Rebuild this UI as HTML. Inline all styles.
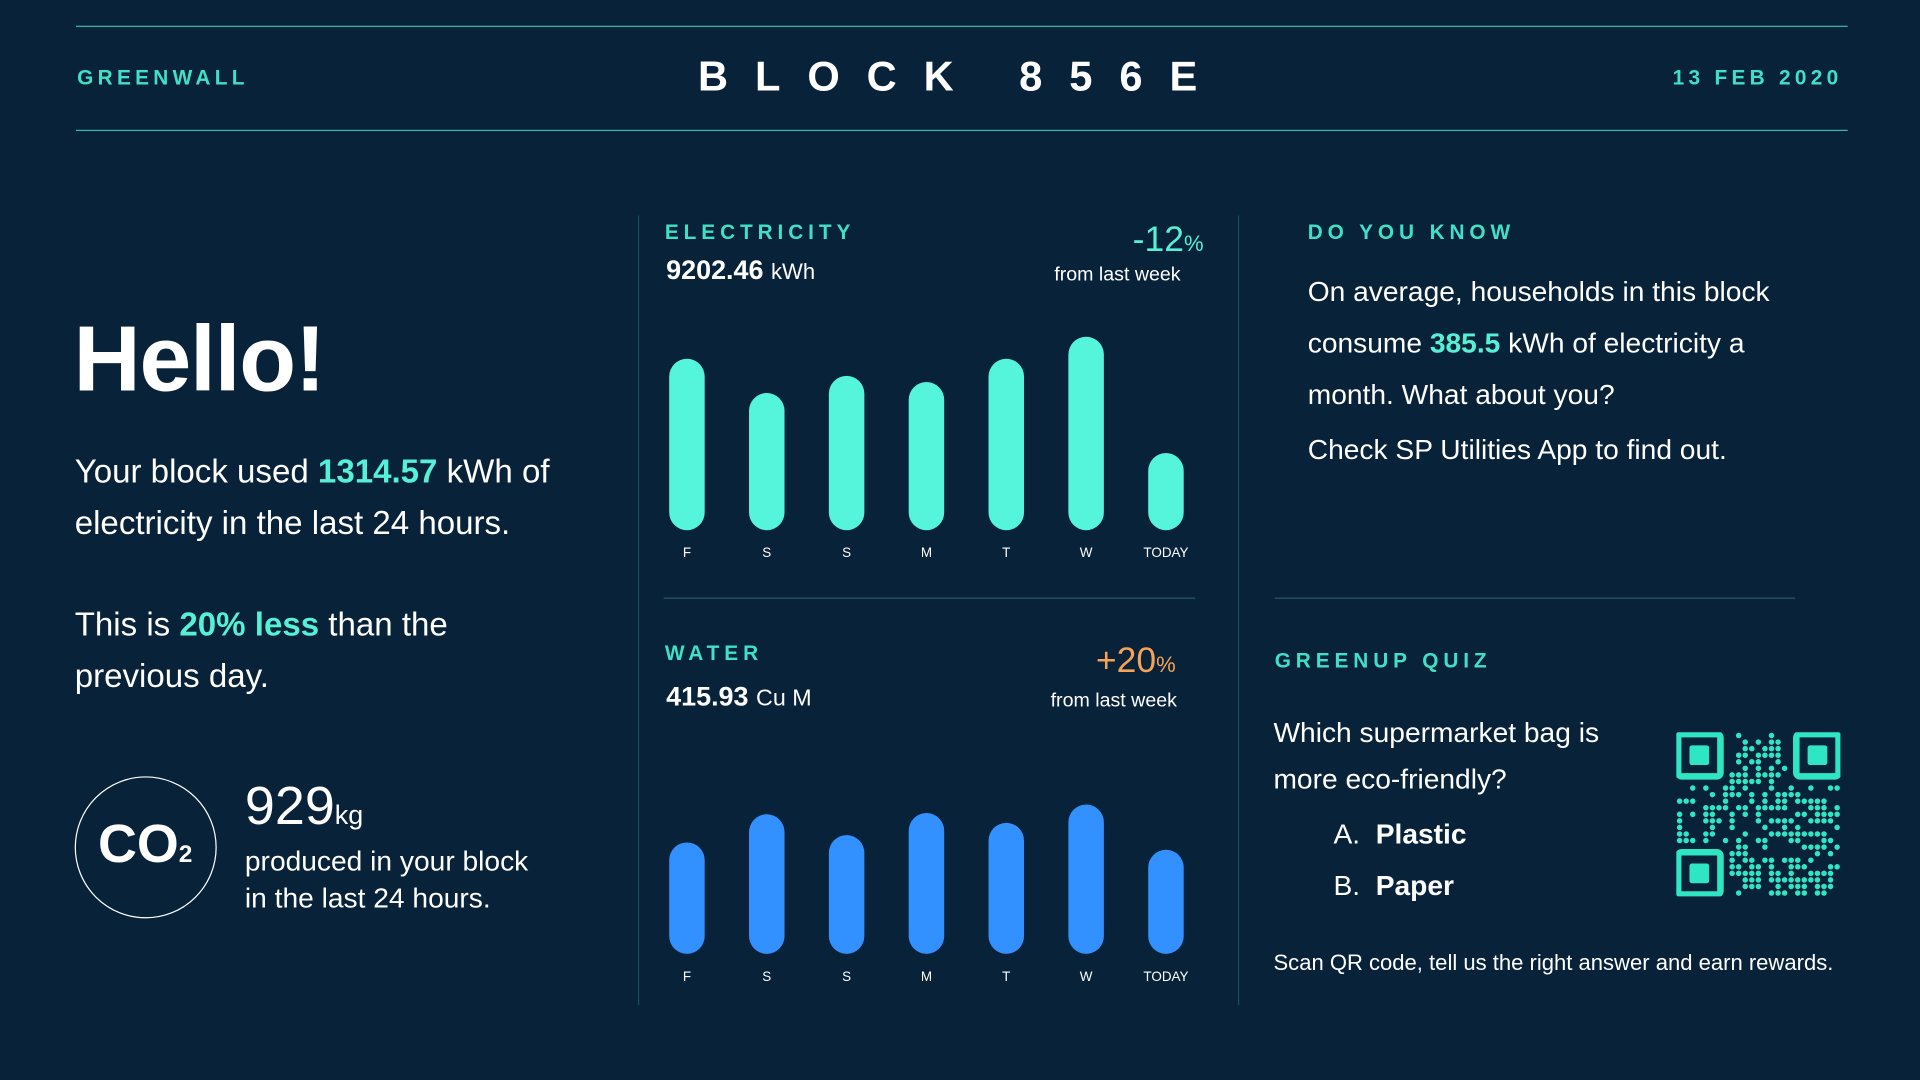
<!DOCTYPE html>
<html><head><meta charset="utf-8">
<style>
html,body{margin:0;padding:0;background:#072239;width:1920px;height:1080px;overflow:hidden}
#stage{position:absolute;left:0;top:0;width:1568px;height:882px;transform:scale(1.22449);transform-origin:0 0;font-family:"Liberation Sans",sans-serif;color:#fff}
.a{position:absolute;white-space:nowrap}
.teal{color:#55f0d6}
.lbl{font-weight:bold;letter-spacing:4px;font-size:17px;color:#3fe0c5}
.hl{position:absolute;height:1px;background:#2a6f78}
.vl{position:absolute;width:1px;background:#1f4a5c}
</style></head><body>
<div id="stage">
<div class="hl" style="left:62px;top:21px;width:1447px;background:#3bb5b0"></div>
<div class="hl" style="left:62px;top:106px;width:1447px;background:#3bb5b0"></div>
<div class="a lbl" style="left:63px;top:54px;font-size:17px;letter-spacing:3.5px">GREENWALL</div>
<div class="a" style="left:570px;top:44px;font-size:34px;font-weight:bold;letter-spacing:22px">BLOCK 856E</div>
<div class="a lbl" style="left:1366px;top:54px;letter-spacing:3.5px">13 FEB 2020</div>

<div class="a" style="left:60px;top:250px;font-size:76px;font-weight:bold;letter-spacing:-1px">Hello!</div>
<div class="a" style="left:61px;top:364px;font-size:27px;line-height:42px">Your block used <b class="teal">1314.57</b> kWh of<br>electricity in the last 24 hours.</div>
<div class="a" style="left:61px;top:489px;font-size:27px;line-height:42px">This is <b class="teal">20% less</b> than the<br>previous day.</div>
<div class="a" style="left:61px;top:634px;width:114px;height:114px;border:1.5px solid #fff;border-radius:50%"><div class="a" style="left:18px;top:30px;font-size:44px;font-weight:bold">CO<span style="font-size:20px">2</span></div></div>
<div class="a" style="left:200px;top:634px;font-size:44px">929<span style="font-size:22px">kg</span></div>
<div class="a" style="left:200px;top:688px;font-size:23px;line-height:30px">produced in your block<br>in the last 24 hours.</div>

<div class="vl" style="left:521px;top:176px;height:645px"></div>
<div class="vl" style="left:1011px;top:176px;height:645px"></div>
<div class="hl" style="left:542px;top:488px;width:434px;background:#2b5768"></div>
<div class="hl" style="left:1041px;top:488px;width:425px;background:#2b5768"></div>

<div class="a lbl" style="left:543px;top:180px">ELECTRICITY</div>
<div class="a" style="left:544px;top:208px;font-size:22px"><b>9202.46</b> <span style="font-size:18px">kWh</span></div>
<div class="a teal" style="left:925px;top:180px;font-size:29px">-12<span style="font-size:18px">%</span></div>
<div class="a" style="left:861px;top:216px;font-size:16px">from last week</div>

<div class="a lbl" style="left:543px;top:524px">WATER</div>
<div class="a" style="left:544px;top:556px;font-size:22px"><b>415.93</b> <span style="font-size:19px">Cu M</span></div>
<div class="a" style="left:895px;top:524px;font-size:29px;color:#f5a357">+20<span style="font-size:18px">%</span></div>
<div class="a" style="left:858px;top:564px;font-size:16px">from last week</div>

<svg id="charts" class="a" style="left:0;top:0" width="1568" height="882"></svg>

<div class="a lbl" style="left:1068px;top:180px">DO YOU KNOW</div>
<div class="a" style="left:1068px;top:217px;font-size:23px;line-height:42px">On average, households in this block<br>consume <b class="teal">385.5</b> kWh of electricity a<br>month. What about you?</div>
<div class="a" style="left:1068px;top:354px;font-size:23px">Check SP Utilities App to find out.</div>

<div class="a lbl" style="left:1041px;top:530px">GREENUP QUIZ</div>
<div class="a" style="left:1040px;top:579px;font-size:23px;line-height:38px">Which supermarket bag is<br>more eco-friendly?</div>
<div class="a" style="left:1089px;top:668px;font-size:23px">A.&nbsp; <b>Plastic</b></div>
<div class="a" style="left:1089px;top:710px;font-size:23px">B.&nbsp; <b>Paper</b></div>
<div class="a" style="left:1040px;top:776px;font-size:18px">Scan QR code, tell us the right answer and earn rewards.</div>
<svg id="qr" class="a" style="left:1369px;top:598px" width="134" height="134"></svg>
</div>
<script>
const days = ["F","S","S","M","T","W","TODAY"];
const electricity = [140,112,126,121,140,158,63];
const water = [91,114,97,115,107,122,85];
const NS="http://www.w3.org/2000/svg";
const svg=document.getElementById('charts');
function xPos(i){return 561+i*65.2;}
function yScale(v,base){return base-v;}
function drawChart(vals,base,labelY,color,name){
  vals.forEach((v,i)=>{
    const r=document.createElementNS(NS,'rect');
    const w=29;
    r.setAttribute('x',xPos(i)-w/2);r.setAttribute('y',yScale(v,base));
    r.setAttribute('width',w);r.setAttribute('height',v);
    r.setAttribute('rx',14.5);r.setAttribute('fill',color);
    
    
    svg.appendChild(r);
    const t=document.createElementNS(NS,'text');
    t.setAttribute('x',xPos(i));t.setAttribute('y',labelY);
    t.setAttribute('text-anchor','middle');t.setAttribute('fill','#fff');
    t.setAttribute('font-size','11');t.setAttribute('font-family','Liberation Sans, sans-serif');
    t.textContent=days[i];
    
    
    svg.appendChild(t);
  });
}
drawChart(electricity,433,455,'#55f5db','electricity');
drawChart(water,779,801,'#3391ff','water');

// QR decoration
const qr=document.getElementById('qr');const N=25,m=134/N;
let s=12345;function rnd(){s=(s*1103515245+12345)&0x7fffffff;return s/0x7fffffff;}
function finder(cx,cy){
  const a=document.createElementNS(NS,'rect');a.setAttribute('x',cx*m+1.5);a.setAttribute('y',cy*m+1.5);a.setAttribute('width',7*m-3);a.setAttribute('height',7*m-3);a.setAttribute('rx',3);a.setAttribute('fill','none');a.setAttribute('stroke','#2fe6c4');a.setAttribute('stroke-width',m);qr.appendChild(a);
  const b=document.createElementNS(NS,'rect');b.setAttribute('x',(cx+2)*m);b.setAttribute('y',(cy+2)*m);b.setAttribute('width',3*m);b.setAttribute('height',3*m);b.setAttribute('rx',2);b.setAttribute('fill','#2fe6c4');qr.appendChild(b);
}
finder(0,0);finder(18,0);finder(0,18);
for(let y=0;y<N;y++)for(let x=0;x<N;x++){
  const inF=(x<8&&y<8)||(x>16&&y<8)||(x<8&&y>16);
  if(inF)continue;
  if(rnd()<0.5){const c=document.createElementNS(NS,'circle');c.setAttribute('cx',x*m+m/2);c.setAttribute('cy',y*m+m/2);c.setAttribute('r',m*0.42);c.setAttribute('fill','#2fe6c4');qr.appendChild(c);}
}
</script>
</body></html>
